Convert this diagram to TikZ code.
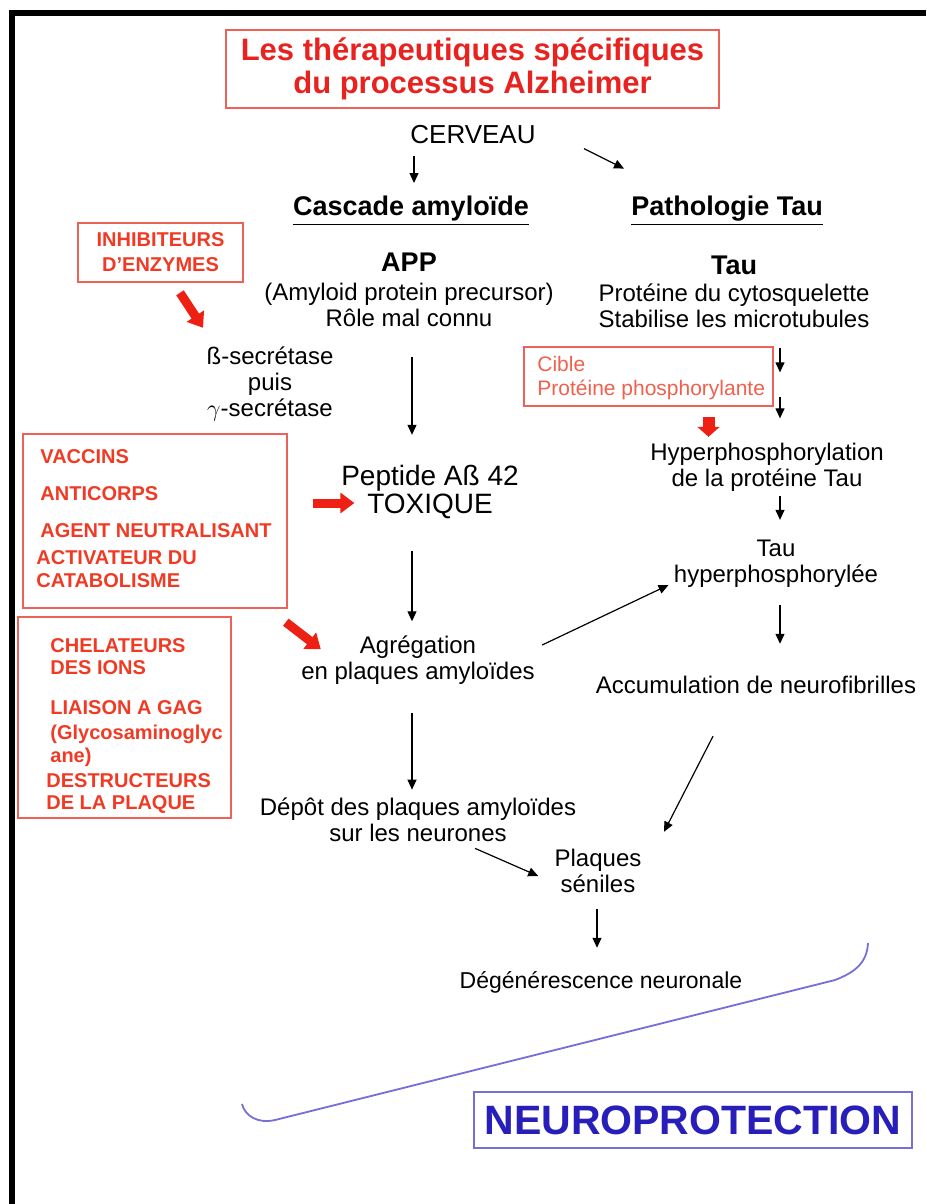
\documentclass[tikz,border=0pt]{standalone}
\usepackage{fontspec}
\setmainfont{Liberation Sans}
\usepackage{xcolor}
\usepackage{tikz}
\usetikzlibrary{arrows.meta}

\definecolor{titlered}{RGB}{232,34,30}
\definecolor{boxred}{RGB}{236,98,88}
\definecolor{txtred}{RGB}{240,58,36}
\definecolor{ciblered}{RGB}{240,96,76}
\definecolor{arrred}{RGB}{238,32,20}
\definecolor{neublue}{RGB}{120,110,215}
\definecolor{neutxt}{RGB}{40,30,185}

\begin{document}
\begin{tikzpicture}[x=0.5pt,y=-0.5pt,
    txt/.style={font=\fontsize{12}{13}\selectfont,align=center,inner sep=0pt},
    hd/.style={font=\bfseries\fontsize{13.5}{15}\selectfont,inner sep=0pt},
    redbox/.style={draw=boxred,line width=0.8pt},
    redtxt/.style={text=txtred,font=\bfseries\fontsize{10}{11.5}\selectfont,inner sep=0pt},
    blk/.style={line width=0.6pt,-{Triangle[length=5pt,width=4.5pt]}},
    fat/.style={draw=arrred,line width=4.5pt,-{Triangle[length=7pt,width=10pt]}}]
    \useasboundingbox (0,0) rectangle (926,1204);
    \draw[line width=3pt] (12,1204) -- (12,13.5) -- (926,13.5);

    \node[redbox,text=titlered,font=\bfseries\fontsize{15.5}{16.5}\selectfont,align=center,
      minimum width=246.5pt,minimum height=39pt] (title) at (472.5,69)
      {Les thérapeutiques spécifiques\\du processus Alzheimer};
    \node[txt,font=\fontsize{13}{14}\selectfont] (cerveau) at (473,135) {CERVEAU};
    \node[hd] (casc) at (411,211) {\underline{Cascade amyloïde}};
    \node[hd] (patho) at (727,211) {\underline{Pathologie Tau}};

    \node[hd] (app) at (409,262) {APP};
    \node[txt] (appd) at (409,305) {(Amyloid protein precursor)\\Rôle mal connu};
    \node[hd] (tau) at (734,265) {Tau};
    \node[txt] (taud) at (734,306) {Protéine du cytosquelette\\Stabilise les microtubules};
    \node[txt] (secr) at (270,384) {ß-secrétase\\puis\\$\gamma$-secrétase};
    \node[txt,font=\fontsize{14}{14}\selectfont] (pep) at (430,492) {Peptide Aß 42\\TOXIQUE};
    \node[txt] (hyper) at (767,467) {Hyperphosphorylation\\de la protéine Tau};
    \node[txt] (tauh) at (776,564) {Tau\\hyperphosphorylée};
    \node[txt] (agr) at (418,660) {Agrégation\\en plaques amyloïdes};
    \node[txt] (accum) at (756,685) {Accumulation de neurofibrilles};
    \node[txt] (depot) at (418,820) {Dépôt des plaques amyloïdes\\sur les neurones};
    \node[txt] (plaq) at (598,871) {Plaques\\séniles};
    \node[txt,font=\fontsize{11.5}{13}\selectfont] (degen) at (601,982) {Dégénérescence neuronale};

    \node[redbox,redtxt,align=center,font=\bfseries\fontsize{10}{12.5}\selectfont,
      minimum width=82.5pt,minimum height=29.5pt] (inhib) at (160.5,252.5) {INHIBITEURS\\D’ENZYMES};
    \node[redbox,minimum width=132pt,minimum height=87pt] (vacc) at (155,521) {};
    \node[redtxt,align=left,anchor=north west] (vacct) at (36,449)
      {\hspace*{2pt}VACCINS\\[7pt]\hspace*{2pt}ANTICORPS\\[7pt]\hspace*{2pt}AGENT NEUTRALISANT\\[2pt]ACTIVATEUR DU\\CATABOLISME};
    \node[redbox,minimum width=106.5pt,minimum height=100.5pt] (chel) at (124.5,717.5) {};
    \node[redtxt,align=left,anchor=north west] (chelt) at (46,638)
      {\hspace*{2pt}CHELATEURS\\[-0.5pt]\hspace*{2pt}DES IONS\\[8.5pt]\hspace*{2pt}LIAISON A GAG\\[1pt]\hspace*{2pt}(Glycosaminoglyc\\\hspace*{2pt}ane)\\[1pt]DESTRUCTEURS\\[-0.5pt]DE LA PLAQUE};
    \node[redbox,minimum width=124.5pt,minimum height=29.5pt] (cible) at (648.5,376.5) {};
    \node[text=ciblered,font=\fontsize{10.5}{12}\selectfont,align=left,inner sep=0pt,anchor=west] (ciblet) at (537,378)
      {Cible\\Protéine phosphorylante};
    \node[draw=neublue,line width=0.8pt,text=neutxt,font=\bfseries\fontsize{20.5}{22}\selectfont,
      minimum width=219pt,minimum height=28pt,inner sep=0pt] (neuro) at (693,1120) {NEUROPROTECTION};

    \draw[blk,shorten <=5.5pt,shorten >=6.5pt] ([xshift=1.5pt]cerveau.south -| casc.north) -- ([xshift=1.5pt]casc.north);
    \draw[blk] ([xshift=24pt,yshift=-2pt]cerveau.south east) -- ++(40,20);
    \draw[blk,shorten <=15pt,shorten >=15pt] ([xshift=1.5pt]appd.south) -- ([xshift=1.5pt]appd.south |- pep.north);
    \draw[blk,shorten <=16pt,shorten >=7pt] ([xshift=-3pt]agr.north |- pep.south) -- ([xshift=-3pt]agr.north);
    \draw[blk,shorten <=14pt,shorten >=4pt] ([xshift=-3pt]agr.south) -- ([xshift=-3pt]depot.north);
    \draw[blk] ([xshift=3.5pt,yshift=7.5pt]agr.east) -- ([xshift=-2.5pt,yshift=-10.5pt]tauh.west);
    \draw[blk] ([yshift=-10pt]taud.south -| tauh.north) ++(4,0) -- ++(0,24);
    \draw[blk] ([yshift=-34.5pt]taud.south -| tauh.north) ++(4,0) -- ++(0,21);
    \draw[blk,shorten <=2pt,shorten >=10pt] ([xshift=2pt]hyper.south -| tauh.north) -- ([xshift=2pt]tauh.north);
    \draw[blk,shorten <=8.5pt,shorten >=16pt] ([xshift=2pt]tauh.south) -- ([xshift=2pt]tauh.south |- accum.north);
    \draw[blk] ([xshift=-21.5pt,yshift=-21pt]accum.south) -- ([xshift=33pt,yshift=8.5pt]plaq.north);
    \draw[blk] ([xshift=28.5pt,yshift=-3pt]depot.south) -- ([xshift=-8pt,yshift=-2.5pt]plaq.west);
    \draw[blk,shorten <=8pt,shorten >=11.5pt] ([xshift=-0.5pt]plaq.south) -- ([xshift=-2pt]degen.north);

    \draw[fat] ([xshift=9.75pt,yshift=-5pt]inhib.south) -- ++(23,35);
    \draw[fat] ([xshift=12.5pt,yshift=9pt]vacc.east) -- ([xshift=6.75pt,yshift=-5.5pt]pep.west);
    \draw[fat] ([xshift=27pt,yshift=-3pt]chel.north east) -- ++(35,27);
    \draw[fat,line width=6pt,-{Triangle[length=5pt,width=11pt]}] ([xshift=30pt,yshift=-5pt]cible.south) -- ++(0,20);

    \draw[neublue,line width=0.9pt] (868,943) .. controls (867,962) and (856,972) .. (835,980)
      -- (275,1120) .. controls (258,1124) and (245,1116) .. (242,1104);
\end{tikzpicture}
\end{document}
